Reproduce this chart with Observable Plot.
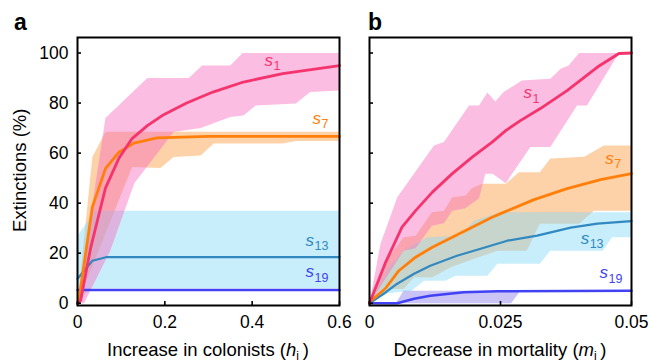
<!DOCTYPE html>
<html>
<head>
<meta charset="utf-8">
<script src="https://cdn.jsdelivr.net/npm/d3@7"></script>
<script src="https://cdn.jsdelivr.net/npm/@observablehq/plot@0.6"></script>
<style>
  html, body { margin: 0; padding: 0; background: #fff; }
  #wrap { position: relative; width: 649px; height: 363px; overflow: hidden; background: #fff;
          font-family: "Liberation Sans", Arial, sans-serif; color: #000; }
  .abs { position: absolute; white-space: nowrap; }
  .xt { font-size: 18.5px; line-height: 18.5px; text-align: center; width: 300px; }
  .pl { font-size: 23px; line-height: 23px; font-weight: bold; }
  sub { font-size: 12px; vertical-align: -4px; line-height: 0; }
</style>
</head>
<body>
<div id="wrap"></div>
<script>
// ---------- tick labels ----------
const aXTicks = [0, 0.2, 0.4, 0.6];
const bXTicks = [0, 0.025, 0.05];
const yTicks = [0, 20, 40, 60, 80, 100];

// ---------- panel a: increase in colonists ----------
const a_s1 = [[0,0],[0.007,1],[0.03,22],[0.064,46],[0.095,58],[0.125,65.8],[0.16,71],[0.194,75],[0.25,80],[0.31,84.4],[0.38,88.4],[0.47,91.8],[0.6,95]];
const a_s1_hi = [[0,0],[0.064,74],[0.16,90],[0.255,90],[0.285,95],[0.35,95],[0.378,100],[0.6,100]];
const a_s1_lo = [[0,0],[0.015,0],[0.075,21],[0.13,48],[0.22,68.4],[0.282,70],[0.35,74.4],[0.38,75],[0.408,79],[0.5,79.8],[0.533,84.4],[0.6,85]];

const a_s7 = [[0,0],[0.003,1],[0.034,38.4],[0.064,53.8],[0.095,60.4],[0.129,64],[0.182,66.1],[0.3,66.7],[0.6,66.7]];
const a_s7_hi = [[0,0],[0.034,58.4],[0.064,68.5],[0.6,68.5]];
const a_s7_lo = [[0,0],[0.125,54.4],[0.19,54],[0.22,58.4],[0.282,59],[0.312,63.8],[0.47,63.8],[0.5,64.8],[0.6,64.8]];

const a_s13 = [[0,9.8],[0.034,17],[0.065,18.4],[0.6,18.4]];
const a_s13_hi = [[0,27],[0.04,37],[0.6,37]];
const a_s13_lo = [[0,0],[0.03,6],[0.6,6]];

const a_s19 = [[0,5.3],[0.6,5.3]];

// ---------- panel b: decrease in mortality ----------
const b_s1 = [[0,0],[0.0015,8],[0.003,16],[0.0062,30.4],[0.0088,37],[0.012,44.4],[0.0158,51.8],[0.0196,58.4],[0.0234,64.4],[0.026,69],[0.0288,73],[0.0326,77.8],[0.0377,85],[0.0435,94.4],[0.0476,99.8],[0.05,100]];
const b_s1_hi = [[0,0],[0.0021,23.8],[0.0053,42.4],[0.0123,63],[0.0142,64.4],[0.019,79],[0.0209,79],[0.0225,84.2],[0.024,80.6],[0.0256,84.4],[0.0291,89],[0.0345,89.7],[0.0365,93.7],[0.038,95],[0.04,100],[0.05,100]];
const b_s1_lo = [[0,0],[0.0065,21],[0.0088,22],[0.0119,31],[0.0142,32],[0.0158,37],[0.0183,38],[0.0209,42],[0.0221,51.8],[0.0235,51.8],[0.026,48],[0.0307,62.4],[0.0345,62.4],[0.0396,79],[0.0415,79],[0.0476,100],[0.05,100]];

const b_s7 = [[0,0.5],[0.003,5.8],[0.0056,13],[0.0088,18.4],[0.012,22.4],[0.0158,26.4],[0.0196,30.4],[0.0234,34.4],[0.025,35.8],[0.0314,41.4],[0.0377,45.8],[0.0441,49.4],[0.05,51.8]];
const b_s7_hi = [[0,0],[0.0035,18],[0.0065,26.4],[0.0088,27],[0.0119,36.4],[0.0142,37],[0.0158,42.4],[0.0183,43],[0.0195,46],[0.0215,47.8],[0.026,47.8],[0.0285,52.4],[0.0325,52.4],[0.0345,57.8],[0.041,58.5],[0.0447,63],[0.05,63]];
const b_s7_lo = [[0,0],[0.0027,5.7],[0.0065,5.7],[0.0085,10.4],[0.012,10.4],[0.0155,14.4],[0.02,17.8],[0.0244,21],[0.03,21],[0.0325,31.8],[0.04,31.8],[0.0428,37],[0.05,37]];

const b_s13 = [[0,0],[0.0027,3.8],[0.0053,7.8],[0.0085,11.8],[0.0116,15],[0.0167,19],[0.0212,21.8],[0.0263,25],[0.032,27],[0.0384,30.2],[0.0435,31.8],[0.05,32.8]];
const b_s13_hi = [[0,0],[0.0035,14],[0.0065,21],[0.011,26.4],[0.0174,27],[0.0199,33],[0.025,36.4],[0.05,36.4]];
const b_s13_lo = [[0,0],[0.0035,4],[0.008,5],[0.0104,9],[0.0145,9],[0.0164,11],[0.0225,11],[0.0244,15.8],[0.0325,15.8],[0.0345,21],[0.0445,21],[0.0463,26.4],[0.05,26.4]];

const b_s19 = [[0,0],[0.0053,0],[0.0085,1.8],[0.0116,3],[0.018,4.4],[0.0244,4.8],[0.05,5]];
const b_s19_hi = [[0.005,0],[0.0065,5],[0.0288,5]];
const b_s19_lo = [[0.005,0],[0.027,0]];

// label anchors (data units) and subscripts
const labelSubs = ["1", "7", "13", "19"];
const a_labelPos = [[0.428,94.9],[0.538,71.8],[0.522,23.0],[0.522,10.3]];
const b_labelPos = [[0.0294,82],[0.045,55.7],[0.0403,23.8],[0.0439,9.9]];

// ---------- styles ----------
const lineColors = ["#f5336d", "#ff7f0a", "#3189bf", "#4242f5"];
const bandColors = ["#f66cbc", "#fb9b40", "#85d9f6", "#877aeb"];
const bandOpacity = 0.45;
const lineWidths = [2.8, 2.8, 2.2, 2.4];

const yDomain = [-0.9, 106.2];
const fmt = d => String(d);

function polygon(hi, lo) { return hi.concat(lo.slice().reverse()); }
function bandMark(hi, lo, i) {
  return Plot.line(polygon(hi, lo), {x: d => d[0], y: d => d[1], fill: bandColors[i], fillOpacity: bandOpacity, stroke: "none", curve: "linear"});
}
function lineMark(pts, i) {
  return Plot.line(pts, {x: d => d[0], y: d => d[1], stroke: lineColors[i], strokeWidth: lineWidths[i], curve: "linear", strokeLinejoin: "round"});
}
function labelMarks(pos) {
  const out = [];
  pos.forEach((p, i) => {
    out.push(Plot.text([p], {x: d => d[0], y: d => d[1], text: () => "s", fill: lineColors[i], fontSize: 17, fontStyle: "italic", textAnchor: "start", lineAnchor: "bottom"}));
    out.push(Plot.text([p], {x: d => d[0], y: d => d[1], text: () => labelSubs[i], fill: lineColors[i], fontSize: 12.5, textAnchor: "start", lineAnchor: "bottom", dx: 9, dy: 4.5}));
  });
  return out;
}
const plotH = 363, mTop = 37, mBottom = 58, innerW = 262, innerH = plotH - mTop - mBottom;
const commonStyle = {fontFamily: "Liberation Sans, Arial, sans-serif", fontSize: "17.5px", background: "transparent", overflow: "visible", color: "#000"};

const plotA = Plot.plot({
  width: 365, height: plotH, marginLeft: 77, marginRight: 26, marginTop: mTop, marginBottom: mBottom,
  x: {domain: [0, 0.6], ticks: aXTicks, tickFormat: fmt, tickSize: 0, tickPadding: 10.5, label: null},
  y: {domain: yDomain, ticks: yTicks, tickFormat: fmt, tickSize: 0, tickPadding: 9, label: null},
  style: commonStyle,
  marks: [
    bandMark(a_s7_hi, a_s7_lo, 1),
    bandMark(a_s13_hi, a_s13_lo, 2),
    bandMark(a_s1_hi, a_s1_lo, 0),
    lineMark(a_s19, 3),
    lineMark(a_s13, 2),
    lineMark(a_s7, 1),
    lineMark(a_s1, 0),
    ...labelMarks(a_labelPos),
    Plot.tickY(yTicks, {y: d => d, insetRight: innerW - 4, stroke: "#000", strokeWidth: 1.6}),
    Plot.tickX(aXTicks, {x: d => d, insetTop: innerH - 4, stroke: "#000", strokeWidth: 1.6}),
    Plot.frame({stroke: "#000", strokeWidth: 2})
  ]
});

const plotB = Plot.plot({
  width: 319, height: plotH, marginLeft: 39, marginRight: 18, marginTop: mTop, marginBottom: mBottom,
  x: {domain: [0, 0.05], ticks: bXTicks, tickFormat: fmt, tickSize: 0, tickPadding: 10.5, label: null},
  y: {domain: yDomain, axis: null},
  style: commonStyle,
  marks: [
    bandMark(b_s7_hi, b_s7_lo, 1),
    bandMark(b_s13_hi, b_s13_lo, 2),
    bandMark(b_s1_hi, b_s1_lo, 0),
    bandMark(b_s19_hi, b_s19_lo, 3),
    lineMark(b_s19, 3),
    lineMark(b_s13, 2),
    lineMark(b_s7, 1),
    lineMark(b_s1, 0),
    ...labelMarks(b_labelPos),
    Plot.tickY(yTicks, {y: d => d, insetRight: innerW - 4, stroke: "#000", strokeWidth: 1.6}),
    Plot.tickX(bXTicks, {x: d => d, insetTop: innerH - 4, stroke: "#000", strokeWidth: 1.6}),
    Plot.frame({stroke: "#000", strokeWidth: 2})
  ]
});

const wrap = document.getElementById("wrap");
plotA.style.position = "absolute"; plotA.style.left = "0px"; plotA.style.top = "0px";
plotB.style.position = "absolute"; plotB.style.left = "330px"; plotB.style.top = "0px";
wrap.appendChild(plotA);
wrap.appendChild(plotB);

function addDiv(html, cls, css) {
  const d = document.createElement("div");
  d.className = "abs " + cls;
  d.innerHTML = html;
  Object.assign(d.style, css);
  wrap.appendChild(d);
  return d;
}
addDiv("a", "pl", {left: "14px", top: "10.5px"});
addDiv("b", "pl", {left: "368px", top: "10.5px"});
addDiv("Increase in colonists (<i>h</i><sub>i</sub>&#8201;)", "xt", {left: (208 - 150) + "px", top: "341px"});
addDiv("Decrease in mortality (<i>m</i><sub>i</sub>&#8201;)", "xt", {left: (500 - 150) + "px", top: "341px"});
addDiv("Extinctions (%)", "xt", {left: (19.8 - 150) + "px", top: (170 - 9.25) + "px", transform: "rotate(-90deg)"});
</script>
</body>
</html>
